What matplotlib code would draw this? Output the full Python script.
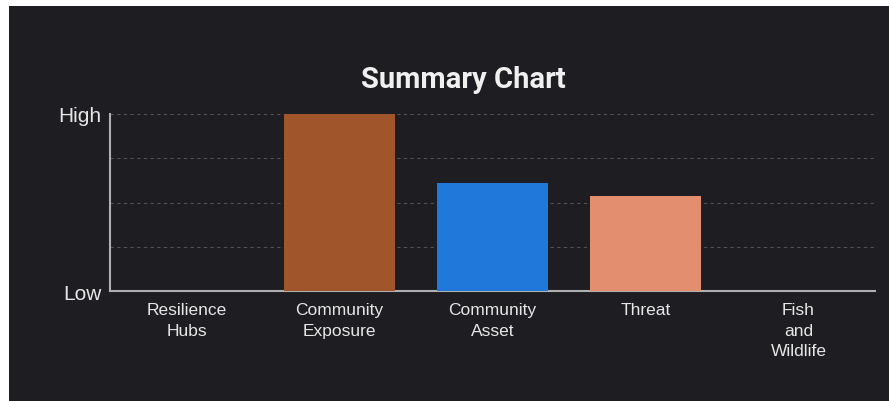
import matplotlib.pyplot as plt
from matplotlib.patches import Rectangle

categories = ["Resilience\nHubs", "Community\nExposure", "Community\nAsset", "Threat", "Fish\nand\nWildlife"]
values = [0, 4.0, 2.45, 2.15, 0]
colors = ["#888888", "#A0562A", "#1F78DA", "#E38E6E", "#888888"]
y_ticks = [0, 4]
y_labels = ["Low", "High"]

bg = "#1e1d22"

fig = plt.figure(figsize=(8.89, 4.02), dpi=100, facecolor="white")
# dark panel, with a thin white margin on top and left like the screenshot
fig.patches.append(Rectangle((9 / 889, -1), 2, 2 - 7 / 402, transform=fig.transFigure,
                             facecolor=bg, edgecolor="none", zorder=-5))

ax = fig.add_axes([110 / 889, 1 - 292 / 402, 765 / 889, 177 / 402])
ax.set_facecolor(bg)
x = range(len(categories))
ax.bar(x, values, width=0.72, color=colors, zorder=3)
ax.set_xlim(-0.5, len(categories) - 0.5)
ax.set_ylim(0, 4)

for v in [1, 2, 3, 4]:
    ax.axhline(v, color="#505056", linestyle=(0, (3, 3)), linewidth=0.8, zorder=1)

ax.set_yticks(y_ticks)
ax.set_yticklabels(y_labels, fontsize=15, color="#e6e6e6", family="Liberation Sans")
ax.set_xticks(list(x))
ax.set_xticklabels(categories, fontsize=12.5, color="#e6e6e6", family="Liberation Sans",
                   linespacing=1.45)
ax.tick_params(axis="y", length=0, pad=6)
ax.tick_params(axis="x", length=0, pad=8)

for s in ["top", "right"]:
    ax.spines[s].set_visible(False)
for s in ["left", "bottom"]:
    ax.spines[s].set_color("#b0b0b0")
    ax.spines[s].set_linewidth(1.5)

fig.text(463 / 889, 1 - 80 / 402, "Summary Chart", ha="center", va="center",
         fontsize=21, fontweight="bold", color="#f0f0f0", family="Roboto")

fig.savefig("out.png", dpi=100, facecolor=fig.get_facecolor())
